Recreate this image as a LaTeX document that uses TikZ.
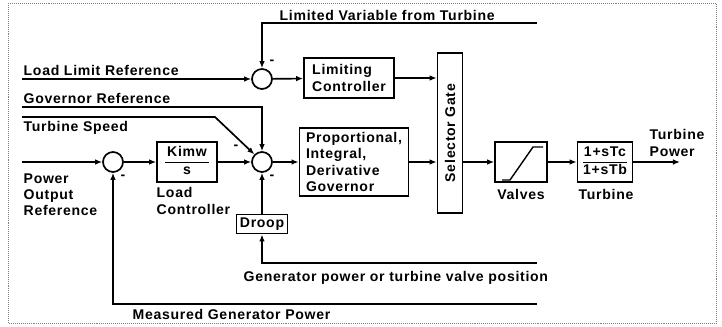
\documentclass[tikz,border=0pt]{standalone}
\usepackage{fontspec}
\setmainfont{Liberation Sans}[LetterSpace=5]
\usetikzlibrary{arrows.meta}

\begin{document}
\begin{tikzpicture}[
		x=0.025cm, y=-0.025cm,
		every node/.style={font=\bfseries\fontsize{10}{11.5}\selectfont},
		sumj/.style={circle, draw, line width=1.2pt, minimum size=0.5cm, inner sep=0pt},
		blk/.style={draw, line width=1.2pt, inner sep=1pt},
		txt/.style={draw=none, inner sep=1pt, align=left},
		sgn/.style={draw=none, inner sep=0pt},
		sig/.style={line width=1.2pt, -{Latex[length=5pt, width=4pt]}},
	]
	\useasboundingbox (0,0) rectangle (722,327);
	\draw[gray, densely dotted] (8,3) rectangle (716,323);

	\node[sumj] (sumL) at (262, 79)  {};
	\node[sumj] (sumG) at (262, 162) {};
	\node[sumj] (sumP) at (113, 162) {};

	\node[blk, minimum width=2.25cm, minimum height=1cm, align=left] (limctl) at (349, 78) {Limiting\\Controller};
	\node[blk, minimum width=1.5cm, minimum height=1cm] (kimw) at (187, 162) {\begin{tabular}{@{\,}c@{\,}}Kimw\\[1pt]\hline s\end{tabular}};
	\node[blk, minimum width=2.73cm, minimum height=1.7cm, align=left] (pid) at (354, 162) {Proportional,\\Integral,\\Derivative\\Governor};
	\node[blk, minimum width=0.625cm, minimum height=4cm] (selgate) at (450, 133) {};
	\node[sgn, rotate=90] (seltxt) at (selgate) {Selector Gate};
	\node[blk, minimum width=1.3cm, minimum height=1cm] (valves) at (521, 162) {};
	\node[blk, minimum width=1.375cm, minimum height=1cm] (turbine) at (605, 162) {\begin{tabular}{@{}c@{}}1+sTc\\[1pt]\hline 1+sTb\end{tabular}};
	\node[blk, minimum width=1.27cm, minimum height=0.48cm] (droop) at (262, 224) {Droop};

	\draw[line width=1pt] ([shift={(-19,18)}]valves.center) -- ++(8,0) -- ++(23,-33) -- ++(10,0);

	% free ends
	\coordinate (limvar) at (537, 23);
	\coordinate (llref) at (22, 79);
	\coordinate (govref) at (22, 107);
	\coordinate (tspeed) at (22, 117);
	\coordinate (tbend) at (215, 117);
	\coordinate (pref) at (22, 162);
	\coordinate (tpow) at (680, 162);
	\coordinate (genpow) at (537, 263);
	\coordinate (measpow) at (537, 304);

	\node[txt, anchor=south west] (limvartxt) at (278, 22) {Limited Variable from Turbine};
	\node[txt, anchor=south west] (llreftxt) at (22, 77) {Load Limit Reference};
	\node[txt, anchor=south west] (govreftxt) at (22, 105) {Governor Reference};
	\node[txt, anchor=north west] (tspeedtxt) at (22, 120) {Turbine Speed};
	\node[txt, anchor=north west] (preftxt) at (22, 172) {Power\\Output\\Reference};
	\node[txt, anchor=north west] (lctltxt) at (155, 186) {Load\\Controller};
	\node[txt] (valvestxt) at (521, 194) {Valves};
	\node[txt] (turbtxt) at (606, 194) {Turbine};
	\node[txt, anchor=north west] (tpowtxt) at (648, 128) {Turbine\\Power};
	\node[txt, anchor=north west] (genpowtxt) at (242, 270) {Generator power or turbine valve position};
	\node[txt, anchor=north west] (measpowtxt) at (131, 308) {Measured Generator Power};

	\node[sgn] (mL) at (272, 62) {-};
	\node[sgn] (mT) at (236, 147) {-};
	\node[sgn] (mG) at (272, 177) {-};
	\node[sgn] (mP) at (123, 177) {-};

	\draw[sig] (limvar) -- (limvar -| sumL) -- (sumL);
	\draw[sig] (llref) -- (sumL);
	\draw[sig] (sumL) -- (limctl);
	\draw[sig] (limctl.east) -- (limctl.east -| selgate.west);
	\draw[sig] (govref) -- (govref -| sumG) -- (sumG);
	\draw[sig] (tspeed) -- (tbend) -- (sumG.north west);
	\draw[sig] (pref) -- (sumP);
	\draw[sig] (sumP) -- (kimw);
	\draw[sig] (kimw) -- (sumG);
	\draw[sig] (sumG) -- (pid);
	\draw[sig] (pid.east) -- (pid.east -| selgate.west);
	\draw[sig] (selgate.east |- valves) -- (valves);
	\draw[sig] (valves) -- (turbine);
	\draw[sig] (turbine) -- (tpow);
	\draw[sig] (genpow) -- (genpow -| droop) -- (droop);
	\draw[sig] (droop) -- (sumG);
	\draw[sig] (measpow) -- (measpow -| sumP) -- (sumP);
\end{tikzpicture}
\end{document}
